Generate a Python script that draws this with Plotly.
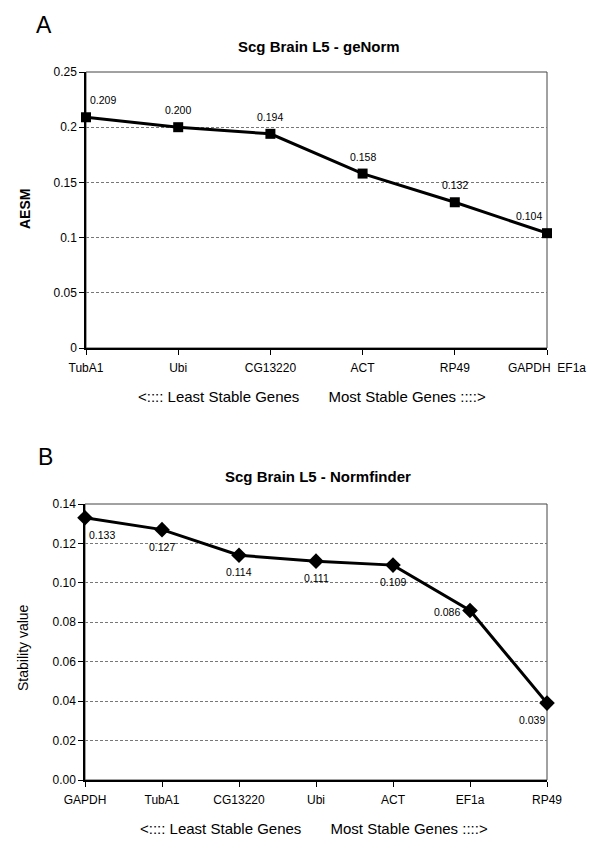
import plotly.graph_objects as go

# ---- data ----
genorm_genes = ["TubA1", "Ubi", "CG13220", "ACT", "RP49", "GAPDH  EF1a"]
genorm_aesm = [0.209, 0.200, 0.194, 0.158, 0.132, 0.104]
genorm_yticks = [0, 0.05, 0.1, 0.15, 0.2, 0.25]
genorm_yticktext = ["0", "0.05", "0.1", "0.15", "0.2", "0.25"]

nf_genes = ["GAPDH", "TubA1", "CG13220", "Ubi", "ACT", "EF1a", "RP49"]
nf_stability = [0.133, 0.127, 0.114, 0.111, 0.109, 0.086, 0.039]
nf_yticks = [0.00, 0.02, 0.04, 0.06, 0.08, 0.10, 0.12, 0.14]

W, H = 600, 851
OFF = 8  # page body margin
FONT = "Liberation Sans, Arial, sans-serif"

def px(x):
    return (x - OFF) / W

def py(y):
    return 1 - (y - OFF) / H

fig = go.Figure()

fig.add_trace(go.Scatter(
    x=genorm_genes, y=genorm_aesm, mode="lines+markers",
    line=dict(color="black", width=3),
    marker=dict(symbol="square", size=10, color="black"),
    cliponaxis=False, xaxis="x", yaxis="y", showlegend=False))

fig.add_trace(go.Scatter(
    x=nf_genes, y=nf_stability, mode="lines+markers",
    line=dict(color="black", width=3),
    marker=dict(symbol="diamond", size=12, color="black"),
    cliponaxis=False, xaxis="x2", yaxis="y2", showlegend=False))

# data labels
ann = []
n1 = len(genorm_genes)
for i, (g, v) in enumerate(zip(genorm_genes, genorm_aesm)):
    xs = 17 if i == 0 else (-18 if i == n1 - 1 else 0)
    ann.append(dict(x=g, y=v, xref="x", yref="y", text=f"{v:.3f}", showarrow=False,
                    xanchor="center", yanchor="middle",
                    xshift=xs, yshift=17, font=dict(family=FONT, size=10.5, color="black")))
n2 = len(nf_genes)
for i, (g, v) in enumerate(zip(nf_genes, nf_stability)):
    xs, ys = 0, -17
    if i == 0:
        xs = 17
    elif i == n2 - 1:
        xs = -15
    elif i == n2 - 2:
        xs, ys = -23, -2
    ann.append(dict(x=g, y=v, xref="x2", yref="y2", text=f"{v:.3f}", showarrow=False,
                    xanchor="center", yanchor="middle",
                    xshift=xs, yshift=ys, font=dict(family=FONT, size=10.5, color="black")))

def lab(x, y, text, size=13, angle=0):
    return dict(x=px(x), y=py(y), xref="paper", yref="paper", text=text, showarrow=False,
                xanchor="center", yanchor="middle", textangle=angle,
                font=dict(family=FONT, size=size, color="black"))

gap = "&nbsp;" * 7
axis_title = "<:::: Least Stable Genes" + gap + "Most Stable Genes ::::>"
ann += [
    lab(44, 25, "A", 23),
    lab(319, 46, "<b>Scg Brain L5 - geNorm</b>", 15),
    lab(25, 209, "<b>AESM</b>", 14, -90),
    lab(312, 396, axis_title, 15),
    lab(45, 457, "B", 23),
    lab(318, 476, "<b>Scg Brain L5 - Normfinder</b>", 15),
    lab(23, 648, "Stability value", 14, -90),
    lab(314, 828, axis_title, 15),
]

xdom = [px(86), px(547)]
xdom2 = [px(85), px(547)]
ydom1 = [py(348), py(72)]
ydom2 = [py(780), py(504)]

tickfont = dict(family=FONT, size=12, color="black")
common_x = dict(type="category", showline=True, linecolor="black", linewidth=1.5,
                ticks="outside", ticklen=5, tickcolor="black", showgrid=False,
                zeroline=False, tickfont=tickfont, fixedrange=True, automargin=False,
                ticklabelstandoff=3)
common_y = dict(showline=True, linecolor="black", linewidth=1.5, ticks="outside", ticklen=5,
                tickcolor="black", showgrid=True, gridcolor="#777", gridwidth=1,
                griddash="3px,2px", zeroline=False, tickfont=tickfont, automargin=False)

fig.update_layout(
    width=W, height=H, margin=dict(l=0, r=0, t=0, b=0, autoexpand=False),
    paper_bgcolor="white", plot_bgcolor="white",
    xaxis=dict(domain=xdom, anchor="y", range=[0, n1 - 1], **common_x),
    yaxis=dict(domain=ydom1, anchor="x", range=[0, 0.25], tickvals=genorm_yticks,
               ticktext=genorm_yticktext, **common_y),
    xaxis2=dict(domain=xdom2, anchor="y2", range=[0, n2 - 1], **common_x),
    yaxis2=dict(domain=ydom2, anchor="x2", range=[0, 0.14], tickvals=nf_yticks,
                tickformat=".2f", **common_y),
    annotations=ann,
    shapes=[
        dict(type="rect", xref="paper", yref="paper", x0=xdom[0], x1=xdom[1],
             y0=ydom1[0], y1=ydom1[1], line=dict(color="#444", width=1), layer="below"),
        dict(type="rect", xref="paper", yref="paper", x0=xdom2[0], x1=xdom2[1],
             y0=ydom2[0], y1=ydom2[1], line=dict(color="#444", width=1), layer="below"),
    ],
)

fig.write_html("out.html")
